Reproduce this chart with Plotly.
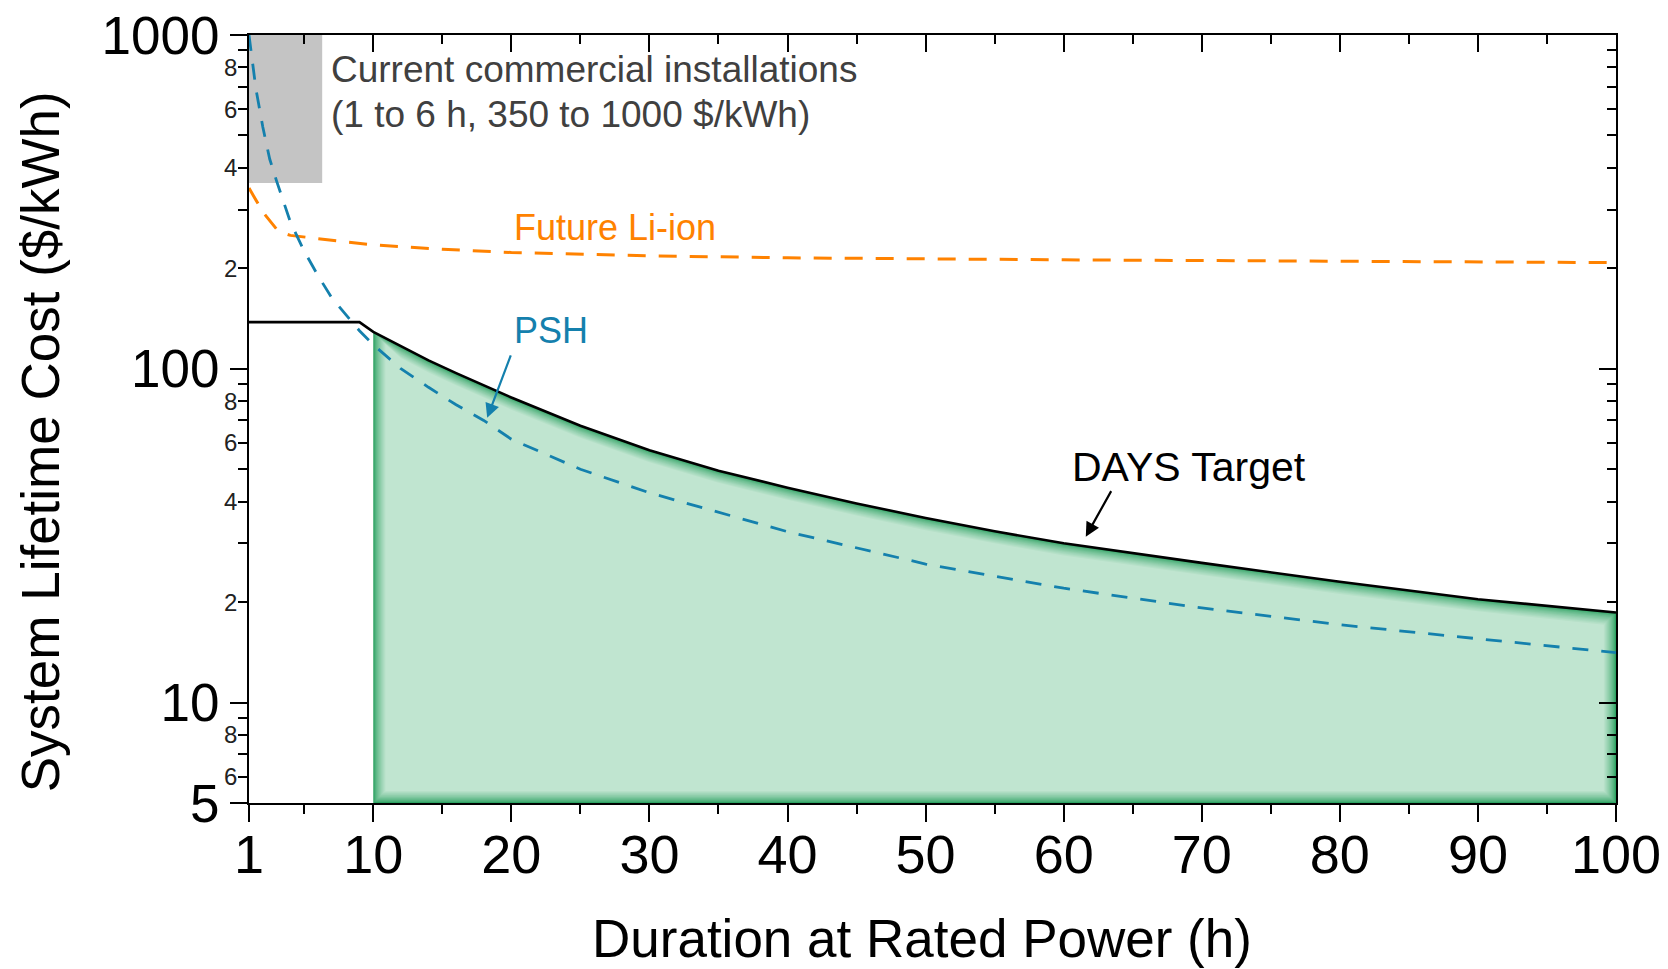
import numpy as np
import plotly.graph_objects as go

# ---------------- data ----------------
psh_duration = [1, 1.5, 2, 2.5, 3, 4, 5, 6, 7, 8, 9, 10, 12, 14, 16, 18, 20, 25, 30,
                40, 50, 60, 70, 80, 90, 100]
psh_cost = [1000, 690, 530, 425, 365, 275, 225, 190, 163, 145, 130, 118, 100, 88, 78,
            70, 61.5, 50, 42.5, 32.5, 26, 22, 19.2, 17.1, 15.5, 14.1]

liion_duration = [1, 1.5, 2, 3, 3.5, 4, 5, 6, 8, 10, 15, 20, 30, 40, 50, 60, 70, 80, 90, 100]
liion_cost = [348, 320, 295, 262, 255, 251, 248, 245, 240, 235, 228, 223, 218, 215, 213,
              212, 211, 210, 209, 208]

days_duration = [1, 9, 10, 12, 14, 16, 18, 20, 25, 30, 35, 40, 45, 50, 55, 60, 70, 80, 90, 100]
days_cost = [138, 138, 129, 117, 106, 97, 89, 82, 67.5, 57, 49.5, 44, 39.5, 35.7, 32.6, 30,
             26.2, 23, 20.4, 18.6]

commercial_duration = [1, 6.3]
commercial_cost = [360, 1000]

x_tick_vals = [1, 10, 20, 30, 40, 50, 60, 70, 80, 90, 100]
x_minor_vals = [5, 15, 25, 35, 45, 55, 65, 75, 85, 95]
y_major_vals = [5, 10, 100, 1000]
y_minor_vals = [6, 7, 8, 9, 20, 30, 40, 50, 60, 70, 80, 90,
                200, 300, 400, 500, 600, 700, 800, 900]
y_small_labels = [6, 8, 20, 40, 60, 80, 200, 400, 600, 800]

# ---------------- layout constants ----------------
# the page body has an 8px margin, so the figure is 8px smaller than the window
W, H = 1660, 961
ML, MR, MT, MB = 241, 52, 27, 166
X_RANGE = [1, 100]
Y_RANGE = [np.log10(5), 3]
px_per_x = (W - ML - MR) / (X_RANGE[1] - X_RANGE[0])
px_per_dec = (H - MT - MB) / (Y_RANGE[1] - Y_RANGE[0])

FONT = "Liberation Sans, Arial, sans-serif"
GREEN_DARK = np.array([45, 162, 98])
GREEN_LIGHT = np.array([192, 229, 208])
ORANGE = "#ff8200"
BLUE = "#1480ad"

fig = go.Figure()

# gray box: current commercial installations
cx0, cx1 = commercial_duration
cy0, cy1 = commercial_cost
fig.add_trace(go.Scatter(x=[cx0, cx1, cx1, cx0, cx0], y=[cy0, cy0, cy1, cy1, cy0],
                         mode="lines", fill="toself", fillcolor="#c4c4c4",
                         line=dict(width=0), hoverinfo="skip", showlegend=False))

# green region under DAYS target (x >= 10), with darker edges (layered gradient)
gx = [d for d in days_duration if d >= 10]
gy = [c for d, c in zip(days_duration, days_cost) if d >= 10]
ybot = y_major_vals[0]
n_layers = 12
for i in range(n_layers):
    k = i * 1.1  # inset in px
    t = (i / (n_layers - 1)) ** 0.7
    col = (GREEN_DARK * (1 - t) + GREEN_LIGHT * t).astype(int)
    xl = gx[0] + k / px_per_x
    xr = gx[-1] - k / px_per_x
    fac = 10 ** (k / px_per_dec)
    top_x = [min(max(x, xl), xr) for x in gx]
    top_y = [y / fac for y in gy]
    px_ = [xl] + top_x + [xr, xl]
    py_ = [ybot * fac] + top_y + [ybot * fac, ybot * fac]
    fig.add_trace(go.Scatter(x=px_, y=py_, mode="lines", fill="toself",
                             fillcolor=f"rgb({col[0]},{col[1]},{col[2]})",
                             line=dict(width=0), hoverinfo="skip", showlegend=False))

# Future Li-ion
fig.add_trace(go.Scatter(x=liion_duration, y=liion_cost, mode="lines",
                         line=dict(color=ORANGE, width=3, dash="18px,13px"),
                         showlegend=False))
# PSH
fig.add_trace(go.Scatter(x=psh_duration, y=psh_cost, mode="lines",
                         line=dict(color=BLUE, width=2.8, dash="16px,13px"),
                         showlegend=False))
# DAYS target (on the overlay axes, drawn on top)
fig.add_trace(go.Scatter(x=days_duration, y=days_cost, mode="lines",
                         line=dict(color="black", width=2.6),
                         xaxis="x2", yaxis="y2", showlegend=False))

axis_common = dict(showgrid=False, zeroline=False, showline=True, linecolor="black",
                   linewidth=2, tickcolor="black", tickwidth=2, automargin=False)

fig.update_layout(
    width=W, height=H, autosize=False,
    margin=dict(l=ML, r=MR, t=MT, b=MB),
    paper_bgcolor="white", plot_bgcolor="white",
    font=dict(family=FONT, color="black"),
    xaxis=dict(range=X_RANGE, tickvals=x_tick_vals, ticktext=[str(v) for v in x_tick_vals],
               ticks="outside", ticklen=17, tickfont=dict(size=54),
               ticklabelstandoff=-14, ticklabeloverflow="allow",
               minor=dict(tickvals=x_minor_vals, ticks="outside", ticklen=9,
                          tickwidth=2, tickcolor="black"),
               **axis_common),
    yaxis=dict(type="log", range=Y_RANGE, tickvals=y_major_vals,
               ticktext=[str(v) for v in y_major_vals],
               ticks="outside", ticklen=17, tickfont=dict(size=53),
               ticklabeloverflow="allow",
               minor=dict(tickvals=y_minor_vals, ticks="outside", ticklen=9,
                          tickwidth=2, tickcolor="black"),
               **axis_common),
    xaxis2=dict(range=X_RANGE, overlaying="x", side="top", anchor="y2",
                tickvals=x_tick_vals, showticklabels=False, ticks="inside", ticklen=17,
                minor=dict(tickvals=x_minor_vals, ticks="inside", ticklen=9,
                           tickwidth=2, tickcolor="black"),
                **axis_common),
    yaxis2=dict(type="log", range=Y_RANGE, overlaying="y", side="right", anchor="x2",
                tickvals=y_major_vals, showticklabels=False, ticks="inside", ticklen=17,
                minor=dict(tickvals=y_minor_vals, ticks="inside", ticklen=9,
                           tickwidth=2, tickcolor="black"),
                **axis_common),
)

ann = []
# small minor tick labels on the left axis
for v in y_small_labels:
    ann.append(dict(xref="paper", yref="y", x=0, y=np.log10(v), text=str(v)[0],
                    xanchor="right", yanchor="middle", xshift=-10, showarrow=False,
                    font=dict(size=24, color="#222222", family=FONT)))

# axis titles
ann.append(dict(xref="paper", yref="paper", x=0.4923, y=-0.177,
                text="Duration at Rated Power (h)", showarrow=False,
                xanchor="center", yanchor="middle", font=dict(size=53, family=FONT)))
ann.append(dict(xref="paper", yref="paper", x=-0.1529, y=0.471,
                text="System Lifetime Cost ($/kWh)", showarrow=False, textangle=-90,
                xanchor="center", yanchor="middle", font=dict(size=53, family=FONT)))

# in-plot labels
ann.append(dict(xref="x", yref="y", x=6.8, y=2.898, text="Current commercial installations",
                showarrow=False, xanchor="left", yanchor="middle",
                font=dict(size=37, color="#404040", family=FONT)))
ann.append(dict(xref="x", yref="y", x=6.8, y=2.763, text="(1 to 6 h, 350 to 1000 $/kWh)",
                showarrow=False, xanchor="left", yanchor="middle",
                font=dict(size=37, color="#404040", family=FONT)))
ann.append(dict(xref="x", yref="y", x=20.05, y=2.422, text="Future Li-ion",
                showarrow=False, xanchor="left", yanchor="middle",
                font=dict(size=36, color=ORANGE, family=FONT)))
ann.append(dict(xref="x", yref="y", x=20.05, y=2.114, text="PSH",
                showarrow=False, xanchor="left", yanchor="middle",
                font=dict(size=36, color=BLUE, family=FONT)))
ann.append(dict(xref="x", yref="y", x=60.45, y=1.707, text="DAYS Target",
                showarrow=False, xanchor="left", yanchor="middle",
                font=dict(size=41, color="black", family=FONT)))

# arrows
ann.append(dict(xref="x", yref="y", axref="x", ayref="y",
                x=18.25, y=np.log10(71.3), ax=20.0, ay=np.log10(110.9),
                text="", showarrow=True, arrowhead=2, arrowsize=1.3, arrowwidth=2.2,
                arrowcolor=BLUE))
ann.append(dict(xref="x", yref="y", axref="x", ayref="y",
                x=61.6, y=1.497, ax=63.5, ay=1.638,
                text="", showarrow=True, arrowhead=2, arrowsize=1.3, arrowwidth=2.2,
                arrowcolor="black"))

fig.update_layout(annotations=ann)
fig.write_html("out.html")
